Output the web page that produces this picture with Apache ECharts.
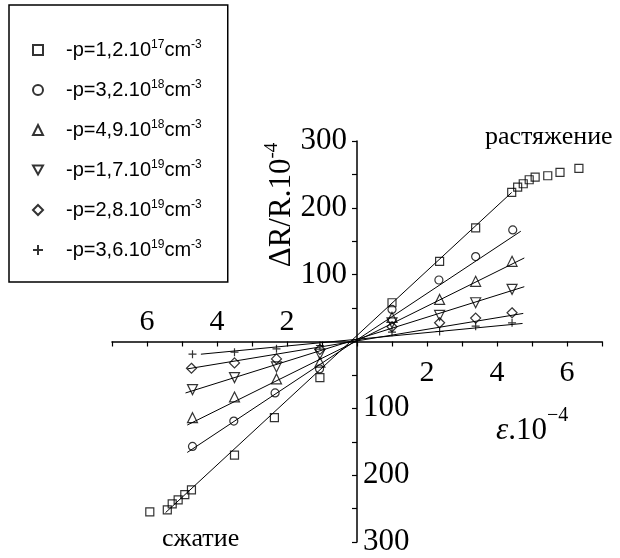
<!DOCTYPE html>
<html>
<head>
<meta charset="utf-8">
<script src="https://cdn.jsdelivr.net/npm/echarts@6/dist/echarts.min.js"></script>
<style>
html,body{margin:0;padding:0;background:#fff}
#chart{width:620px;height:558px}
</style>
</head>
<body>
<div id="chart"></div>
<script>
// legend text: base + exponent, then "cm" + "-3"
var legendBase = ['-p=1,2.10', '-p=3,2.10', '-p=4,9.10', '-p=1,7.10', '-p=2,8.10', '-p=3,6.10'];
var legendExp = ['17', '18', '18', '19', '19', '19'];

// tick labels
var xLabelVals = [2, 4, 6];
var yLabelVals = [100, 200, 300];

// measured points [eps.10^-4, dR/R.10^-4]
var ptsSquare = [[-5.92,-255],[-5.42,-252],[-5.28,-243],[-5.11,-237],[-4.92,-229],[-4.73,-222],[-3.5,-170],[-2.36,-114],[-1.06,-54],
  [1.0,58],[2.36,120],[3.39,170],[4.42,223],[4.59,231],[4.75,236],[4.92,242],[5.09,246],[5.45,248],[5.8,253],[6.34,259]];
var ptsCircle = [[-4.7,-157],[-3.52,-119],[-2.34,-77],[-1.07,-41],[1.0,48],[2.34,92],[3.39,127],[4.45,167]];
var ptsTriangle = [[-4.7,-114],[-3.5,-83],[-2.3,-56],[-1.06,-31],[1.0,36],[2.36,63],[3.39,90],[4.43,120]];
var ptsDown = [[-4.7,-72],[-3.5,-54],[-2.3,-38],[-1.06,-19],[1.0,28],[2.36,39],[3.39,58],[4.43,78]];
var ptsDiamond = [[-4.73,-40],[-3.5,-32],[-2.3,-26],[-1.06,-12],[1.0,22],[2.36,28],[3.39,35],[4.43,43]];
var ptsPlus = [[-4.7,-19],[-3.5,-16],[-2.3,-11],[-1.06,-6],[1.0,14],[2.36,15],[3.39,23],[4.43,28]];

// fitted straight lines, end points
var fitSquare = [[-5.47,-256],[4.42,223]];
var fitCircle = [[-4.85,-166],[4.68,165]];
var fitTriangle = [[-4.85,-125],[4.78,125]];
var fitDown = [[-4.9,-77],[4.78,82]];
var fitDiamond = [[-4.85,-41],[4.75,42]];
var fitPlus = [[-4.46,-19],[4.73,27]];

var pts = [ptsSquare, ptsCircle, ptsTriangle, ptsDown, ptsDiamond, ptsPlus];
var fits = [fitSquare, fitCircle, fitTriangle, fitDown, fitDiamond, fitPlus];
var symbols = ['rect', 'circle', 'triangle', 'path://M0,0 L10,0 L5,9 Z', 'diamond', 'path://M5,0 L5,10 M0,5 L10,5'];
var symSizes = [8, 8, 10, 10, 10, 8];

var serif = 'Liberation Serif';
var names = legendBase.map(function (b, i) { return b + legendExp[i] + 'cm-3'; });

// grid box; axes are shifted from the grid edge to the zero lines
var gLeft = 112, gRight = 18, gTop = 141, gBottom = 16;
var gW = 620 - gLeft - gRight, gH = 558 - gTop - gBottom;
var xOff = -gH / 2, yOff = -gW / 2;

var series = [];
fits.forEach(function (f, i) {
  series.push({
    name: 'fit' + i, type: 'line', data: f, symbol: 'none', silent: true,
    lineStyle: {color: '#000', width: 1}, z: 2
  });
});
pts.forEach(function (p, i) {
  series.push({
    name: names[i], type: 'scatter', data: p, symbol: symbols[i], symbolSize: symSizes[i],
    itemStyle: {color: 'rgba(0,0,0,0)', borderColor: '#000', borderWidth: 1.2}, z: 3
  });
});

var chart = echarts.init(document.getElementById('chart'));
chart.setOption({
  animation: false,
  backgroundColor: '#fff',
  grid: {left: gLeft, right: gRight, top: gTop, bottom: gBottom, outerBoundsMode: 'none'},
  legend: {
    data: names, orient: 'vertical', left: 9, top: 5,
    padding: [34, 26, 22, 23], itemGap: 19, itemWidth: 10, itemHeight: 10,
    borderColor: '#000', borderWidth: 1.5,
    formatter: function (n) {
      var i = names.indexOf(n);
      return '{t|' + legendBase[i] + '}{s|' + legendExp[i] + '}{t|cm}{s|-3}';
    },
    textStyle: {
      padding: [0, 0, 0, 18],
      rich: {
        t: {fontFamily: 'Liberation Sans', fontSize: 20, color: '#000', lineHeight: 22},
        s: {fontFamily: 'Liberation Sans', fontSize: 12, color: '#000', verticalAlign: 'top', lineHeight: 22}
      }
    }
  },
  xAxis: [{
    type: 'value', min: -7, max: 7, interval: 1, position: 'bottom', offset: xOff,
    axisLine: {onZero: false, lineStyle: {color: '#000', width: 1.5}},
    axisTick: {show: true, length: 5, lineStyle: {color: '#000', width: 1.2}},
    splitLine: {show: false},
    axisLabel: {
      margin: 17, color: '#000', fontFamily: serif, fontSize: 30,
      formatter: function (v) { return xLabelVals.indexOf(v) >= 0 ? String(v) : ''; }
    }
  }, {
    type: 'value', min: -7, max: 7, interval: 1, position: 'bottom', offset: xOff,
    axisLine: {show: false, onZero: false},
    axisTick: {show: false},
    splitLine: {show: false},
    axisLabel: {
      inside: true, margin: 4, color: '#000', fontFamily: serif, fontSize: 30,
      formatter: function (v) { return xLabelVals.indexOf(-v) >= 0 ? String(-v) : ''; }
    }
  }],
  yAxis: [{
    type: 'value', min: -300, max: 300, interval: 50, position: 'left', offset: yOff,
    axisLine: {onZero: false, lineStyle: {color: '#000', width: 1.5}},
    axisTick: {show: true, length: 5, lineStyle: {color: '#000', width: 1.2}},
    splitLine: {show: false},
    axisLabel: {
      margin: 10, color: '#000', fontFamily: serif, fontSize: 31,
      formatter: function (v) { return yLabelVals.indexOf(v) >= 0 ? String(v) : ''; }
    }
  }, {
    type: 'value', min: -300, max: 300, interval: 50, position: 'left', offset: yOff,
    axisLine: {show: false, onZero: false},
    axisTick: {show: false},
    splitLine: {show: false},
    axisLabel: {
      inside: true, margin: 6, color: '#000', fontFamily: serif, fontSize: 31,
      formatter: function (v) { return yLabelVals.indexOf(-v) >= 0 ? String(-v) : ''; }
    }
  }],
  graphic: [{
    type: 'text', x: 280, y: 205, rotation: Math.PI / 2,
    style: {
      text: '{a|\u0394R/R.10}{s|-4}', align: 'center', verticalAlign: 'middle',
      rich: {
        a: {fontFamily: serif, fontSize: 31, fill: '#000', lineHeight: 34, verticalAlign: 'bottom'},
        s: {fontFamily: serif, fontSize: 19, fill: '#000', lineHeight: 34, verticalAlign: 'top'}
      }
    }
  }, {
    type: 'text', x: 496, y: 446,
    style: {
      text: '{e|\u03b5}{a|.10}{s|\u22124}', align: 'left', verticalAlign: 'bottom',
      rich: {
        e: {fontFamily: serif, fontStyle: 'italic', fontSize: 31, fill: '#000', lineHeight: 40, verticalAlign: 'bottom'},
        a: {fontFamily: serif, fontSize: 31, fill: '#000', lineHeight: 40, verticalAlign: 'bottom'},
        s: {fontFamily: serif, fontSize: 20, fill: '#000', lineHeight: 40, verticalAlign: 'top'}
      }
    }
  }, {
    type: 'text', x: 485, y: 137,
    style: {text: 'растяжение', fontFamily: serif, fontSize: 26, fill: '#000', verticalAlign: 'middle'}
  }, {
    type: 'text', x: 162, y: 539,
    style: {text: 'сжатие', fontFamily: serif, fontSize: 26, fill: '#000', verticalAlign: 'middle'}
  }],
  series: series
});
</script>
</body>
</html>
